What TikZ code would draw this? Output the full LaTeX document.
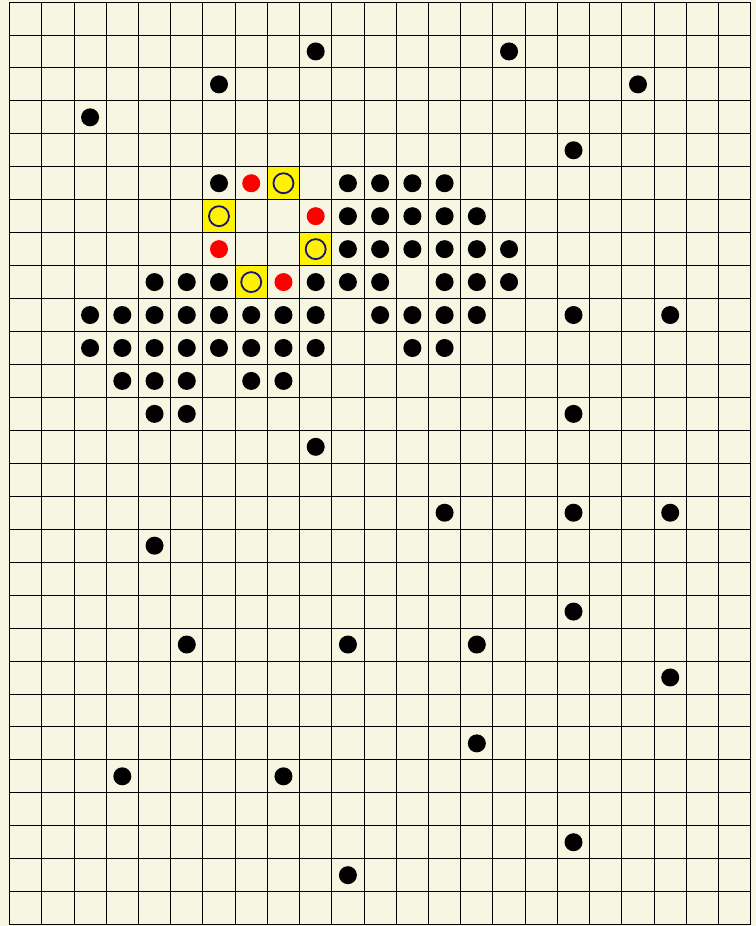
\documentclass[tikz,border=0pt]{standalone}
\usepackage{tikz}
\definecolor{Paper}{HTML}{F7F6E3}
\definecolor{Ink}{HTML}{15157A}

\begin{document}
\begin{tikzpicture}[x=32.23pt,y=-32.95pt]
  \useasboundingbox (-0.295,-0.061) rectangle (23.162,28.043);
  \fill[Paper] (-0.295,-0.061) rectangle (23.162,28.043);
  % highlighted cells
  \foreach \c/\r in {8/5,6/6,9/7,7/8}{\fill[yellow] (\c,\r) rectangle ++(1,1);}
  \foreach \i in {0,...,23}{\draw[line width=.9pt] (\i,0)--(\i,28);}
  \foreach \j in {0,...,28}{\draw[line width=.9pt] (0,\j)--(23,\j);}
  % black stones, row by row
  \foreach \r/\cs in {1/{9,15},2/{6,19},3/{2},4/{17},5/{6,10,11,12,13},6/{10,11,12,13,14},
      7/{10,11,12,13,14,15},8/{4,5,6,9,10,11,13,14,15},9/{2,3,4,5,6,7,8,9,11,12,13,14,17,20},
      10/{2,3,4,5,6,7,8,9,12,13},11/{3,4,5,7,8},12/{4,5,17},13/{9},15/{13,17,20},16/{4},
      18/{17},19/{5,10,14},20/{20},22/{14},23/{3,8},25/{17},26/{10}}{
    \foreach \c in \cs {\fill (\c+.5,\r+.5) circle (9pt);}}
  \foreach \c/\r in {7/5,9/6,6/7,8/8}{\fill[red] (\c+.5,\r+.5) circle (9pt);}
  \foreach \c/\r in {8/5,6/6,9/7,7/8}{\draw[Ink,line width=1.8pt,fill=yellow] (\c+.5,\r+.5) circle (10pt);}
\end{tikzpicture}
\end{document}
